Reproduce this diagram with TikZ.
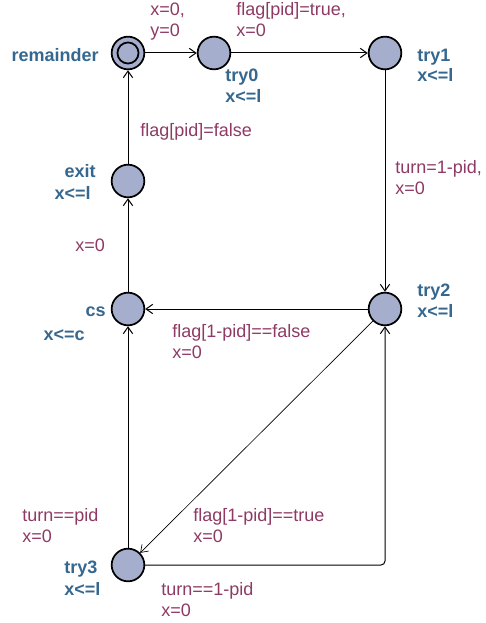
\documentclass[tikz,border=0pt]{standalone}
\usepackage{fontspec}
\setmainfont{Liberation Sans}
\usetikzlibrary{arrows.meta,positioning}
\definecolor{locfill}{HTML}{A5AECC}
\definecolor{locname}{HTML}{35678F}
\definecolor{edgelabel}{HTML}{8E3A64}
\tikzset{
	loc/.style={circle,draw,line width=1.3pt,fill=locfill,minimum size=24.5pt,inner sep=0pt},
	lname/.style={font=\bfseries\fontsize{13.5}{15.75}\selectfont,text=locname,inner sep=0pt},
	elabel/.style={font=\fontsize{13.5}{15.75}\selectfont,text=edgelabel,align=left,inner sep=0pt},
	edge/.style={->,line width=0.75pt},
	>={Straight Barb[length=5pt,width=7pt]}
}
\begin{document}
\begin{tikzpicture}[x=0.75pt,y=-0.75pt]
		\useasboundingbox (0,0) rectangle (485,623);
		\node[loc] (remainder) at (128,53) {};
		\draw[line width=1.3pt] (remainder.center) circle (7.9pt);
		\node[loc] (try0) at (214,53) {};
		\node[loc] (try1) at (385,53) {};
		\node[loc] (exit) at (128,181) {};
		\node[loc] (cs) at (128,309) {};
		\node[loc] (try2) at (385,309) {};
		\node[loc] (try3) at (128,565) {};
		\node[lname,anchor=base east] (remainder-name) at (99,62) {remainder};
		\node[lname,anchor=base west] (try0-name) at (225,82) {try0};
		\node[lname,anchor=base west] (try0-inv) at (225,103) {x<=l};
		\node[lname,anchor=base west] (try1-name) at (417,62) {try1};
		\node[lname,anchor=base west] (try1-inv) at (417,82) {x<=l};
		\node[lname,anchor=base east] (exit-name) at (96,178) {exit};
		\node[lname,anchor=base east] (exit-inv) at (91,200) {x<=l};
		\node[lname,anchor=base east] (cs-name) at (106,316) {cs};
		\node[lname,anchor=base east] (cs-inv) at (85,340) {x<=c};
		\node[lname,anchor=base west] (try2-name) at (417,296) {try2};
		\node[lname,anchor=base west] (try2-inv) at (417,317) {x<=l};
		\node[lname,anchor=base west] (try3-name) at (64,573) {try3};
		\node[lname,anchor=base west] (try3-inv) at (64,595) {x<=l};
		\draw[edge] (remainder) -- (try0);
		\draw[edge] (try0) -- (try1);
		\draw[edge] (try1) -- (try2);
		\draw[edge] (try2) -- (cs);
		\draw[edge] (cs) -- (exit);
		\draw[edge] (exit) -- (remainder);
		\draw[edge,line width=0.5pt] (try2) -- (try3);
		\draw[edge] (try3) -- (cs);
		\draw[edge,rounded corners=3pt] (try3) -| (try2);
		\node[elabel,anchor=base west] (reset-xy) at (150,37) {x=0,\\y=0};
		\node[elabel,anchor=base west] (set-flag) at (236,37) {flag[pid]=true,\\x=0};
		\node[elabel,anchor=base west] (give-turn) at (395,195) {turn=1-pid,\\x=0};
		\node[elabel,anchor=base west] (other-off) at (172,358) {flag[1-pid]==false\\x=0};
		\node[elabel,anchor=base west] (leave-cs) at (75,252) {x=0};
		\node[elabel,anchor=base west] (clear-flag) at (140,137) {flag[pid]=false};
		\node[elabel,anchor=base west] (other-on) at (193,542) {flag[1-pid]==true\\x=0};
		\node[elabel,anchor=base west] (my-turn) at (22,542) {turn==pid\\x=0};
		\node[elabel,anchor=base west] (other-turn) at (161,616) {turn==1-pid\\x=0};
	\end{tikzpicture}
\end{document}
